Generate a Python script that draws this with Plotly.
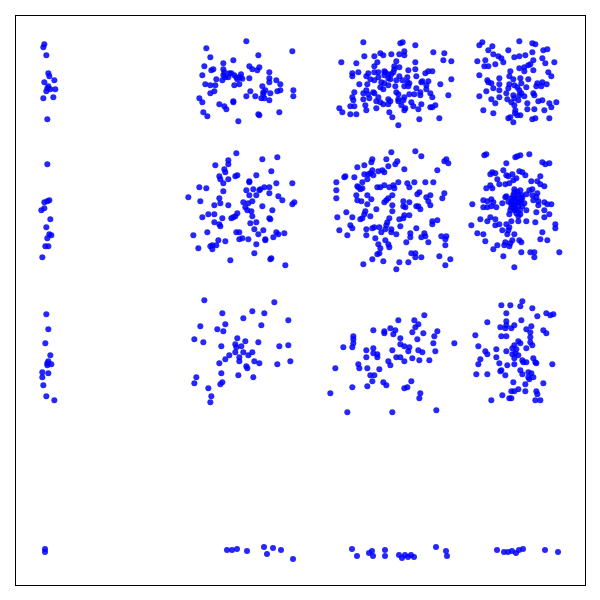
import plotly.graph_objects as go

## values, one pair of lists per cluster
## row/column order: top row first, left column first
a_x = [43, 40, 49, 55, 58, 73, 43, 55, 52, 61, 76, 49, 70, 40, 52]
a_y = [28, 37, 61, 115, 124, 136, 142, 154, 160, 163, 163, 169, 187, 190, 253]
b_x = [199, 79, 337, 235, 91, 160, 130, 73, 208, 238, 100, 94, 217, 232, 130, 133, 268, 67, 130, 148, 154, 136, 145, 163, 183, 181, 169, 172, 187, 208, 109, 127, 268, 268, 289, 76, 91, 106, 163, 178, 301, 247, 256, 103, 91, 211, 250, 271, 292, 301, 340, 340, 199, 226, 244, 253, 250, 268, 58, 67, 160, 160, 118, 133, 139, 70, 82, 235, 238, 298, 175]
b_y = [34, 55, 64, 76, 82, 91, 100, 109, 109, 112, 118, 121, 118, 121, 118, 127, 127, 136, 136, 130, 130, 142, 142, 136, 133, 142, 142, 148, 146, 145, 148, 151, 145, 157, 151, 163, 166, 166, 166, 163, 163, 169, 181, 184, 190, 184, 187, 190, 184, 181, 181, 199, 199, 199, 205, 205, 193, 211, 205, 217, 214, 217, 223, 229, 238, 247, 259, 253, 256, 247, 274]
c_x = [115, 226, 233, 271, 238, 325, 358, 166, 175, 199, 223, 238, 118, 148, 355, 379, 49, 94, 157, 214, 271, 148, 208, 223, 208, 271, 250, 82, 100, 82, 124, 130, 148, 160, 178, 181, 310, 322, 301, 136, 148, 160, 178, 190, 199, 205, 223, 247, 274, 103, 127, 169, 190, 196, 214, 232, 247, 253, 379, 346, 289, 292, 310, 304, 166, 178, 190, 175, 211, 238, 250, 304, 274, 124, 115, 88, 145, 130, 148, 214, 220, 286, 268, 253, 238, 316, 322, 370, 82, 85, 115, 133, 160, 190, 220, 235, 286, 196, 154, 166, 175, 190, 220, 259, 289, 121, 76, 88, 229, 241, 265, 280, 316, 322, 331, 43, 124, 154, 52, 76, 94, 193, 238, 202, 283, 343, 220]
c_y = [37, 40, 37, 46, 64, 67, 70, 70, 76, 73, 73, 76, 79, 79, 91, 94, 97, 100, 97, 94, 97, 109, 109, 112, 118, 118, 121, 130, 127, 139, 139, 130, 127, 127, 124, 127, 124, 124, 130, 148, 151, 142, 136, 133, 133, 127, 139, 142, 139, 163, 163, 157, 145, 148, 151, 151, 157, 160, 148, 163, 157, 154, 154, 166, 172, 160, 166, 178, 169, 169, 169, 178, 175, 181, 190, 187, 187, 193, 190, 187, 193, 187, 193, 193, 202, 190, 202, 196, 202, 211, 208, 205, 202, 208, 208, 211, 196, 214, 214, 217, 223, 223, 214, 217, 223, 226, 229, 229, 226, 235, 229, 238, 232, 232, 226, 235, 241, 235, 247, 253, 253, 247, 241, 262, 268, 265, 286]
d_x = [163, 52, 43, 82, 202, 211, 70, 130, 202, 235, 247, 85, 100, 148, 163, 181, 232, 109, 115, 37, 61, 205, 241, 268, 58, 70, 91, 196, 190, 163, 178, 178, 205, 136, 43, 133, 250, 259, 145, 166, 190, 67, 70, 103, 103, 133, 148, 169, 217, 232, 245, 214, 229, 79, 85, 103, 64, 130, 124, 157, 163, 184, 169, 43, 79, 103, 127, 145, 148, 163, 178, 205, 208, 91, 139, 160, 187, 220, 232, 253, 274, 259, 238, 208, 187, 148, 151, 55, 85, 157, 136, 130, 166, 202, 211, 253, 145, 150]
d_y = [34, 37, 46, 49, 40, 43, 61, 61, 67, 61, 58, 73, 79, 82, 79, 76, 85, 85, 97, 94, 91, 91, 100, 97, 109, 109, 103, 103, 106, 115, 112, 124, 121, 124, 136, 139, 127, 139, 148, 145, 148, 151, 157, 145, 163, 163, 166, 160, 160, 157, 163, 169, 169, 160, 175, 181, 184, 175, 190, 172, 181, 172, 190, 199, 208, 202, 208, 196, 205, 196, 199, 190, 196, 220, 217, 211, 220, 214, 211, 220, 217, 232, 241, 238, 238, 226, 241, 241, 250, 256, 262, 265, 256, 268, 265, 265, 277, 250]

e_x = [52, 58, 52, 43, 43, 34, 61, 49, 58, 64, 52, 46, 55, 37]
e_y = [28, 136, 139, 142, 160, 166, 193, 217, 238, 241, 250, 274, 274, 307]
f_x = [169, 292, 247, 145, 145, 106, 133, 136, 274, 118, 172, 166, 229, 121, 145, 208, 208, 130, 289, 337, 58, 79, 253, 268, 199, 220, 238, 241, 130, 268, 208, 229, 25, 118, 295, 307, 61, 121, 190, 205, 217, 343, 337, 103, 145, 196, 247, 202, 214, 277, 85, 103, 172, 67, 127, 154, 160, 166, 217, 268, 271, 103, 118, 121, 211, 229, 223, 250, 82, 169, 178, 235, 289, 295, 313, 40, 280, 187, 178, 205, 256, 256, 115, 136, 229, 91, 97, 109, 55, 97, 223, 151, 271, 274, 316]
f_y = [25, 37, 43, 46, 58, 61, 73, 82, 79, 94, 91, 94, 91, 103, 103, 109, 112, 115, 115, 115, 127, 130, 127, 127, 136, 133, 136, 133, 139, 145, 151, 151, 157, 160, 154, 166, 169, 175, 172, 175, 169, 172, 178, 181, 181, 187, 184, 196, 199, 196, 208, 208, 205, 217, 220, 220, 217, 214, 214, 220, 223, 232, 238, 244, 235, 232, 253, 256, 262, 262, 262, 268, 262, 268, 265, 271, 277, 280, 283, 283, 283, 286, 286, 289, 298, 304, 301, 301, 310, 313, 325, 346, 343, 340, 361]
g_x = [199, 271, 289, 142, 139, 184, 217, 211, 358, 364, 370, 97, 118, 190, 238, 337, 142, 160, 172, 178, 118, 130, 136, 145, 58, 61, 88, 34, 127, 112, 220, 247, 268, 301, 325, 97, 100, 157, 166, 178, 193, 205, 208, 253, 34, 106, 112, 283, 277, 358, 94, 127, 202, 316, 34, 139, 190, 184, 352, 97, 109, 304, 310, 235, 253, 178, 127, 202, 235, 241, 274, 280, 286, 316, 154, 202, 121, 118, 64, 82, 37, 112, 106, 136, 193, 253, 238, 235, 223, 187, 322, 337, 322, 184, 76, 82, 148, 142, 124, 163, 181, 199, 43, 226, 274, 169, 199, 214, 298, 256, 256, 301, 289, 67, 124, 151, 181, 349, 364, 361, 244, 310, 160, 190, 193, 361, 166, 259, 271, 163, 157, 271, 289, 343, 142, 175, 223, 250, 376, 115, 361, 214]
g_y = [22, 19, 34, 43, 52, 43, 49, 58, 49, 43, 55, 67, 61, 64, 73, 76, 76, 79, 76, 82, 88, 88, 85, 91, 97, 94, 97, 112, 103, 112, 112, 115, 112, 112, 112, 124, 127, 127, 127, 121, 127, 121, 130, 127, 136, 133, 130, 142, 148, 145, 151, 151, 151, 151, 160, 163, 160, 166, 160, 166, 169, 157, 169, 169, 172, 172, 178, 181, 184, 187, 184, 184, 193, 181, 193, 199, 199, 208, 202, 217, 217, 220, 223, 214, 220, 211, 211, 220, 223, 232, 229, 226, 238, 241, 241, 250, 247, 250, 253, 247, 253, 253, 256, 244, 250, 262, 262, 268, 265, 265, 277, 274, 277, 271, 271, 280, 286, 274, 274, 283, 292, 292, 298, 298, 307, 301, 310, 325, 325, 325, 328, 337, 337, 334, 343, 349, 352, 352, 343, 358, 361, 373]
h_x = [58, 64, 193, 151, 157, 166, 232, 241, 253, 124, 115, 163, 172, 82, 76, 91, 124, 130, 142, 181, 97, 154, 145, 226, 199, 217, 103, 76, 121, 133, 226, 238, 64, 82, 148, 166, 202, 193, 148, 184, 217, 202, 124, 121, 214, 139, 145, 157, 55, 79, 67, 85, 112, 139, 151, 169, 178, 205, 220, 238, 247, 259, 22, 55, 67, 79, 94, 139, 148, 160, 172, 220, 184, 214, 238, 133, 154, 166, 253, 238, 160, 46, 76, 91, 67, 139, 160, 184, 211, 91, 103, 124, 19, 133, 271, 271, 112, 130, 232, 37, 55, 127, 148, 226, 247, 61, 142, 163, 169, 121, 136, 97, 118, 133, 85, 169, 196, 208, 283, 208, 115, 148, 139, 150, 160, 145, 160, 170, 155, 145, 130, 165, 150, 157, 136, 172, 148, 163]
h_y = [31, 28, 28, 37, 34, 31, 52, 58, 55, 55, 76, 79, 82, 82, 88, 85, 91, 94, 88, 91, 103, 100, 106, 94, 109, 109, 118, 121, 118, 115, 118, 124, 130, 130, 133, 136, 133, 136, 142, 148, 145, 151, 154, 157, 157, 160, 160, 160, 166, 163, 169, 172, 175, 172, 169, 166, 175, 166, 169, 172, 178, 178, 178, 187, 187, 184, 187, 187, 190, 184, 184, 181, 196, 202, 196, 208, 205, 208, 208, 217, 214, 223, 217, 223, 229, 229, 229, 229, 232, 241, 238, 238, 241, 247, 238, 250, 256, 256, 262, 265, 268, 268, 268, 283, 286, 289, 286, 286, 292, 292, 295, 301, 301, 304, 313, 322, 322, 322, 322, 337, 334, 367, 178, 178, 172, 150, 150, 150, 195, 180, 170, 195, 160, 140, 196, 158, 196, 172]

i_x = [49, 55, 46, 61, 55, 52, 64, 52, 37, 55, 37, 40, 49, 73]
i_y = [28, 73, 115, 151, 169, 175, 178, 181, 202, 205, 217, 241, 274, 286]
j_x = [73, 283, 127, 217, 253, 190, 325, 136, 244, 61, 112, 130, 43, 70, 172, 196, 235, 166, 169, 184, 124, 298, 325, 166, 190, 217, 205, 148, 136, 178, 178, 118, 223, 238, 292, 331, 199, 202, 124, 175, 220, 49, 43, 127, 121, 85, 94, 91]
j_y = [31, 37, 70, 64, 70, 85, 91, 103, 106, 109, 118, 124, 148, 157, 145, 154, 157, 163, 172, 169, 169, 169, 166, 187, 187, 187, 196, 196, 208, 202, 214, 220, 214, 220, 223, 214, 229, 235, 250, 256, 262, 262, 280, 277, 283, 295, 319, 337]
k_x = [298, 220, 268, 280, 271, 145, 196, 211, 178, 178, 205, 262, 295, 337, 328, 85, 85, 85, 226, 277, 325, 388, 55, 82, 226, 238, 253, 145, 124, 202, 250, 280, 292, 331, 145, 157, 157, 124, 214, 226, 262, 283, 313, 190, 238, 100, 196, 31, 103, 127, 163, 136, 148, 142, 175, 184, 259, 82, 127, 238, 247, 16, 286, 283, 334, 67, 202]
k_y = [46, 61, 61, 73, 82, 91, 85, 91, 94, 100, 103, 97, 100, 94, 109, 109, 118, 130, 115, 118, 130, 130, 142, 142, 133, 139, 142, 145, 151, 151, 154, 151, 157, 154, 160, 163, 172, 172, 172, 172, 175, 181, 181, 184, 184, 193, 196, 205, 205, 205, 208, 226, 226, 244, 247, 256, 244, 262, 259, 265, 262, 280, 280, 295, 331, 337, 337]
l_x = [172, 109, 136, 166, 202, 124, 244, 256, 265, 217, 169, 124, 67, 124, 106, 121, 139, 148, 199, 184, 235, 196, 244, 31, 109, 124, 196, 160, 166, 196, 148, 202, 184, 40, 94, 124, 142, 154, 61, 67, 151, 160, 142, 94, 148, 205, 46, 172, 175, 184, 211, 214, 103, 40, 127, 148, 262, 166, 109, 106, 190, 199, 34, 67, 121, 172, 190, 205, 193, 145, 235, 181, 160, 181, 139, 148, 214, 217, 112, 133, 139, 79, 211, 226]
l_y = [34, 46, 46, 49, 55, 70, 70, 76, 73, 79, 91, 94, 97, 106, 112, 115, 115, 106, 109, 118, 121, 127, 130, 136, 139, 139, 142, 154, 160, 157, 166, 166, 175, 169, 178, 184, 175, 178, 184, 193, 190, 196, 193, 202, 205, 205, 208, 211, 217, 217, 217, 220, 220, 223, 226, 223, 223, 241, 241, 244, 247, 250, 253, 253, 256, 253, 262, 262, 268, 277, 280, 283, 298, 304, 304, 304, 304, 313, 316, 325, 325, 331, 331, 331]

## bottom row was read directly in chart units
bottom_x = [45, 45, 227, 232, 237, 247, 264, 267, 273, 281, 293, 352, 357, 369, 372, 373, 385, 385, 399, 402, 405, 408, 411, 414, 436, 446, 447, 497, 504, 508, 512, 516, 519, 523, 545, 558]
bottom_y = [549, 552, 550, 550, 549, 551, 547, 554, 548, 550, 559, 549, 556, 553, 551, 556, 550, 556, 555, 558, 555, 557, 555, 557, 547, 551, 556, 550, 552, 552, 551, 553, 550, 549, 550, 552]

## cluster offsets: the lists above are at 3 units per chart unit
clusters = [
    (a_x, a_y, 30, 35), (b_x, b_y, 180, 30), (c_x, c_y, 325, 30), (d_x, d_y, 465, 30),
    (e_x, e_y, 30, 155), (f_x, f_y, 180, 145), (g_x, g_y, 325, 145), (h_x, h_y, 465, 145),
    (i_x, i_y, 30, 305), (j_x, j_y, 180, 290), (k_x, k_y, 325, 300), (l_x, l_y, 465, 290),
]

xs = list(bottom_x)
ys = list(bottom_y)
for cx, cy, x0, y0 in clusters:
    xs += [x0 + v / 3 for v in cx]
    ys += [y0 + v / 3 for v in cy]

fig = go.Figure(go.Scatter(
    x = xs, y = ys, mode = 'markers', hoverinfo = 'none',
    marker = dict(size = 6, color = 'rgba(0,0,255,0.85)', line = dict(width = 0)),
))
axis = dict(
    showticklabels = False, ticks = '', showgrid = False, zeroline = False,
    showline = True, mirror = True, linecolor = 'black', linewidth = 1,
)
fig.update_layout(
    width = 584, height = 584,
    margin = dict(l = 8, r = 7, t = 8, b = 7),
    plot_bgcolor = 'white', paper_bgcolor = 'white', showlegend = False,
    xaxis = dict(range = [16, 585], **axis),
    yaxis = dict(range = [585, 16], **axis),
)
fig.write_html("out.html")
